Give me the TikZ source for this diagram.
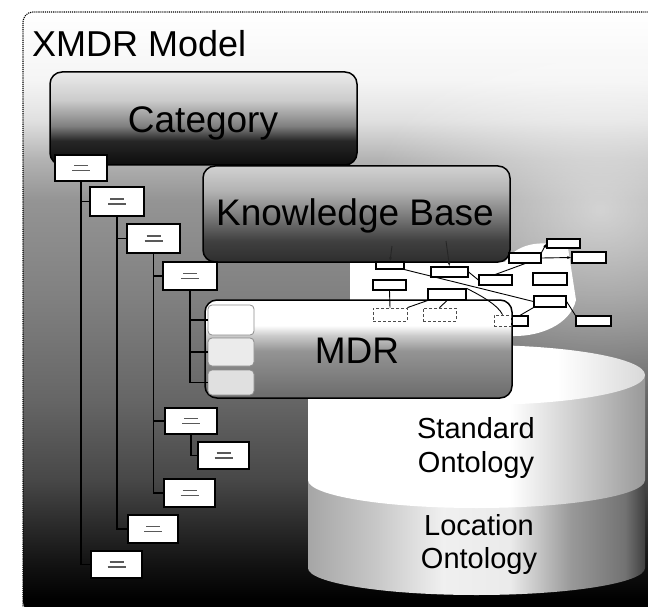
\documentclass[tikz,border=0pt]{standalone}
\usepackage{fontspec}
\setmainfont{Liberation Sans}
\usetikzlibrary{arrows.meta,fadings}

\pgfdeclareverticalshading{bgshade}{100bp}{color(0bp)=(black); color(26bp)=(black); color(29.3bp)=(black!92); color(32.7bp)=(black!82); color(36bp)=(black!72); color(42.7bp)=(black!60); color(51bp)=(black!50); color(59.3bp)=(black!42); color(62.7bp)=(black!30); color(66bp)=(black!12); color(69.3bp)=(black!4); color(75bp)=(white); color(100bp)=(white)}
\pgfdeclareverticalshading{catshade}{100bp}{color(0bp)=(black!95); color(25bp)=(black!95); color(38bp)=(black!85); color(46bp)=(black!50); color(60bp)=(black!20); color(75bp)=(black!8); color(100bp)=(black!8)}
\pgfdeclareverticalshading{kbshade}{100bp}{color(0bp)=(black!82); color(25bp)=(black!82); color(36bp)=(black!75); color(50bp)=(black!50); color(62bp)=(black!30); color(75bp)=(black!18); color(100bp)=(black!18)}
\pgfdeclareverticalshading{mdrshade}{100bp}{color(0bp)=(black!58); color(25bp)=(black!58); color(49bp)=(black!42); color(57bp)=(black!20); color(62bp)=(white); color(75bp)=(white); color(100bp)=(white)}
\pgfdeclarehorizontalshading{stdshade}{100bp}{color(0bp)=(white); color(25bp)=(white); color(55bp)=(white); color(66bp)=(black!22); color(75bp)=(black!40); color(100bp)=(black!40)}
\pgfdeclarehorizontalshading{stdtop}{100bp}{color(0bp)=(white); color(25bp)=(white); color(62bp)=(white); color(75bp)=(black!15); color(100bp)=(black!15)}
\pgfdeclarehorizontalshading{locshade}{100bp}{color(0bp)=(black!35); color(25bp)=(black!35); color(35bp)=(black!22); color(45bp)=(black!6); color(55bp)=(black!8); color(64bp)=(black!40); color(72bp)=(black!55); color(75bp)=(black!75); color(100bp)=(black!75)}
\tikzfading[name=softspot, inner color=transparent!0, outer color=transparent!100]

\begin{document}
\begin{tikzpicture}[x=1pt,y=-1pt,
  bigbox/.style={shade, draw=black, line width=1.5pt, rounded corners=12pt, inner sep=0pt},
  tbox/.style={draw=black, line width=1.6pt, fill=white, inner sep=0pt,
    path picture={\draw[black!65, line width=1.3pt]
      ([xshift=-7pt,yshift=2.5pt]path picture bounding box.center) -- ++(14pt,0pt)
      ([xshift=-9pt,yshift=-2.5pt]path picture bounding box.center) -- ++(18pt,0pt);}},
  gbox/.style={draw=black, line width=1.2pt, fill=white, inner sep=0pt},
  dbox/.style={draw=black!70, densely dashed, line width=0.8pt, inner sep=0pt},
  mbox/.style={draw=black!45, line width=0.8pt, fill=white, rounded corners=4pt, inner sep=0pt},
  tline/.style={draw=black, line width=1.6pt},
  gline/.style={draw=black, line width=0.9pt},
  bigtxt/.style={font=\fontsize{37}{44}\selectfont, text=black, anchor=base, inner sep=0pt},
  cyltxt/.style={font=\fontsize{29}{34}\selectfont, text=black, anchor=base, inner sep=0pt}]
\path[use as bounding box] (0,0) rectangle (648,607);
\clip (0,0) rectangle (648,607);
% background
\fill[white] (0,0) rectangle (648,607);
\shade[shading=bgshade, rounded corners=10pt] (23,12) rectangle (662,612);
\fill[white, opacity=0.6, path fading=softspot] (600,210) ellipse[x radius=230pt, y radius=190pt];
\draw[black, line width=1.1pt, densely dotted, rounded corners=10pt] (23,612) -- (23,12) -- (662,12);

% Category box
\node[bigbox, shading=catshade, minimum width=307pt, minimum height=93pt] (category) at (203.5,118.5) {};

% Knowledge Base white graph area
\fill[white] (350,262) -- (505,262) .. controls (515,245) and (540,238) .. (568,248)
  -- (576,300) .. controls (570,325) and (540,336) .. (515,336) -- (350,336) -- cycle;

% Knowledge Base box
\node[bigbox, shading=kbshade, minimum width=307pt, minimum height=96pt] (kb) at (356.5,214) {};

% cylinders
\shade[shading=locshade] (308,470) -- (308,568)
  arc[start angle=180, end angle=360, x radius=168.5pt, y radius=27pt] -- (645,470) -- cycle;
\shade[shading=stdshade] (308,375) -- (308,480)
  arc[start angle=180, end angle=360, x radius=168.5pt, y radius=28pt] -- (645,375) -- cycle;
\shade[shading=stdtop] (476.5,375) ellipse[x radius=168.5pt, y radius=30pt];

% MDR box
\node[bigbox, shading=mdrshade, minimum width=307pt, minimum height=98pt] (mdr) at (358.5,349) {};
\node[mbox, minimum width=46pt, minimum height=30pt] (m1) at (231,320) {};
\node[mbox, fill=black!8, minimum width=46pt, minimum height=28pt] (m2) at (231,352) {};
\node[mbox, fill=black!12, minimum width=46pt, minimum height=25pt] (m3) at (231,382.5) {};

% category tree
\node[tbox, minimum width=52pt, minimum height=26pt] (c1) at (81,168) {};
\node[tbox, minimum width=54pt, minimum height=29pt] (c2) at (117,201.5) {};
\node[tbox, minimum width=53pt, minimum height=29pt] (c3) at (153.5,238.5) {};
\node[tbox, minimum width=54pt, minimum height=28pt] (c4) at (190,276) {};
\node[tbox, minimum width=52pt, minimum height=26pt] (c5) at (191,421) {};
\node[tbox, minimum width=51pt, minimum height=27pt] (c6) at (223.5,455.5) {};
\node[tbox, minimum width=51pt, minimum height=28pt] (c7) at (189.5,493) {};
\node[tbox, minimum width=50pt, minimum height=28pt] (c8) at (153,529) {};
\node[tbox, minimum width=51pt, minimum height=27pt] (c9) at (116.5,564.5) {};

\draw[tline] (c1.south) |- (c2.west);
\draw[tline] (c1.south) |- (c9.west);
\draw[tline] (c2.south) |- (c3.west);
\draw[tline] (c2.south) |- (c8.west);
\draw[tline] (c3.south) |- (c4.west);
\draw[tline] (c3.south) |- (c5.west);
\draw[tline] (c3.south) |- (c7.west);
\draw[tline] (c5.south) |- (c6.west);
\draw[tline] (c4.south) |- (m1.west);
\draw[tline] (c4.south) |- (m2.west);
\draw[tline] (c4.south) |- (m3.west);

% knowledge graph
\node[gbox, minimum width=33pt, minimum height=9pt]  (k1) at (563.5,243.5) {};
\node[gbox, minimum width=34pt, minimum height=11pt] (k2) at (589,257.5) {};
\node[gbox, minimum width=32pt, minimum height=10pt] (k3) at (525,258) {};
\node[gbox, minimum width=34pt, minimum height=12pt] (k4) at (550,279) {};
\node[gbox, minimum width=33pt, minimum height=10pt] (k5) at (495.5,280) {};
\node[gbox, minimum width=32pt, minimum height=11pt] (k6) at (550,301.5) {};
\node[gbox, minimum width=35pt, minimum height=10pt] (k7) at (593.5,321) {};
\node[gbox, minimum width=16pt, minimum height=10pt] (k8) at (520,321) {};
\node[gbox, minimum width=37pt, minimum height=10pt] (k9) at (449.5,272) {};
\node[gbox, minimum width=38pt, minimum height=11pt] (k10) at (447,294.5) {};
\node[gbox, minimum width=33pt, minimum height=10pt] (k11) at (389.5,285) {};
\node[gbox, minimum width=28pt, minimum height=7pt]  (k12) at (390,265.5) {};
\node[dbox, minimum width=34pt, minimum height=13pt] (d1) at (390,314.5) {};
\node[dbox, minimum width=33pt, minimum height=13pt] (d2) at (439.5,314.5) {};
\node[dbox, minimum width=17pt, minimum height=11pt] (d3) at (502.5,320.5) {};
\coordinate (kbA) at (392,246);
\coordinate (kbB) at (446,241);

\draw[gline] (k12.south east) -- (k6.west);
\draw[gline] (k9.east) -- (k5.west);
\draw[gline] (k5.north) -- (k3.south);
\draw[gline, -{Latex[length=4pt]}] (k3.north east) -- (k1.west);
\draw[gline, -{Latex[length=4pt]}] (k3.east) -- (k2.west);
\draw[gline] (k6.east) -- (k7.north west);
\draw[gline] (k6.south west) -- (k8.north);
\draw[gline] (k10.north east) .. controls (480,295) and (498,305) .. (d3.north);
\draw[gline] (k11.south) -- (d1.north);
\draw[gline] (k10.south west) -- (d1.north east);
\draw[gline] (k10.south) -- (d2.north);
\draw[gline, black!85, -{Latex[length=4pt]}] (kbA) -- (k12.north);
\draw[gline, black!85, -{Latex[length=4pt]}] (kbB) -- (k9.north);

% texts
\node[font=\fontsize{36}{43}\selectfont, anchor=base west, inner sep=0pt] (title) at (32,57) {XMDR Model};
\node[bigtxt] (cattxt) at (203,133) {Category};
\node[bigtxt] (kbtxt) at (355,225) {Knowledge Base};
\node[bigtxt] (mdrtxt) at (357,363) {MDR};
\node[cyltxt] (std1) at (476,438) {Standard};
\node[cyltxt] (std2) at (476,472) {Ontology};
\node[cyltxt] (loc1) at (479,535) {Location};
\node[cyltxt] (loc2) at (479,568) {Ontology};
\end{tikzpicture}
\end{document}
